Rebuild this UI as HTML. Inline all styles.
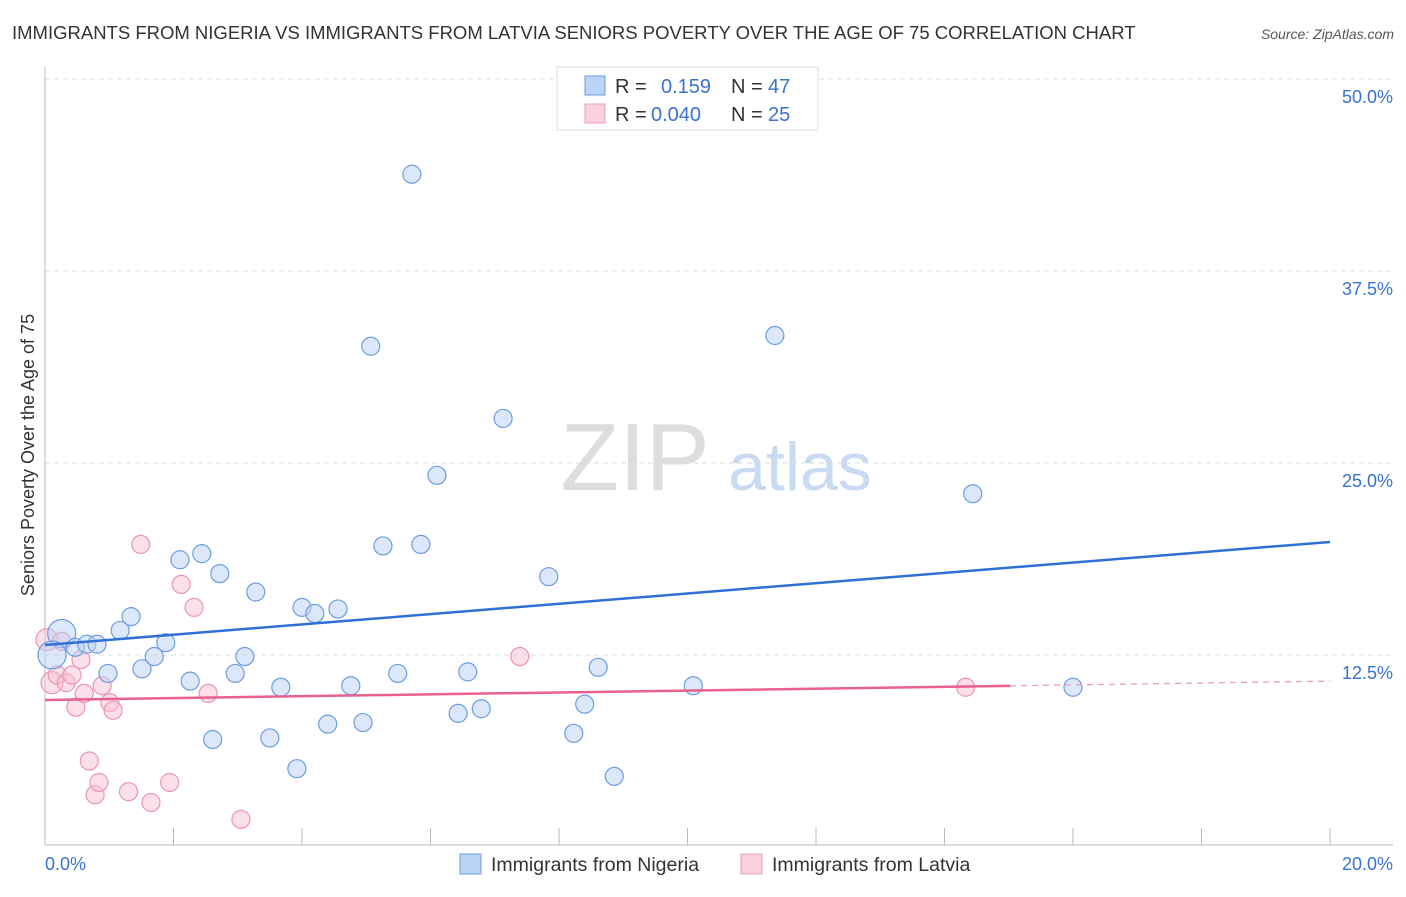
<!DOCTYPE html>
<html><head><meta charset="utf-8"><style>
body{margin:0;background:#fff;font-family:"Liberation Sans",sans-serif;}
svg text{font-family:"Liberation Sans",sans-serif;}
</style></head><body>
<svg id="chart" width="1406" height="892">
<text x="12" y="39" font-size="18.5" fill="#333">IMMIGRANTS FROM NIGERIA VS IMMIGRANTS FROM LATVIA SENIORS POVERTY OVER THE AGE OF 75 CORRELATION CHART</text>
<text x="1394" y="39" font-size="14" fill="#555" font-style="italic" text-anchor="end">Source: ZipAtlas.com</text>
<text x="635" y="490" font-size="96" fill="#ddd" font-family="Liberation Serif" text-anchor="middle">ZIP</text>
<text x="800" y="490" font-size="68" fill="#c9daf3" text-anchor="middle">atlas</text>
<g id="grid"></g>
<g id="axes"></g>
<g id="marks"></g>
<text transform="translate(34,455) rotate(-90)" font-size="18" fill="#333" text-anchor="middle">Seniors Poverty Over the Age of 75</text>
<g>
<rect x="557" y="67" width="261" height="63" fill="#fff" stroke="#ddd"/>
<rect x="585" y="76" width="20" height="19" fill="#bcd4f5" stroke="#6a9be0"/>
<rect x="585" y="104" width="20" height="19" fill="#fbd0dd" stroke="#ee9bb5"/>
<text x="615" y="93" font-size="20" fill="#333">R = </text><text x="661" y="93" font-size="20" fill="#3a72d0">0.159</text>
<text x="731" y="93" font-size="20" fill="#333">N = </text><text x="768" y="93" font-size="20" fill="#3a72d0">47</text>
<text x="615" y="121" font-size="20" fill="#333">R = </text><text x="651" y="121" font-size="20" fill="#3a72d0">0.040</text>
<text x="731" y="121" font-size="20" fill="#333">N = </text><text x="768" y="121" font-size="20" fill="#3a72d0">25</text>
</g>
<g>
<rect x="460" y="854" width="21" height="20" fill="#bcd4f5" stroke="#6a9be0"/>
<text x="491" y="871" font-size="19.5" fill="#333">Immigrants from Nigeria</text>
<rect x="741" y="854" width="21" height="20" fill="#fbd0dd" stroke="#ee9bb5"/>
<text x="772" y="871" font-size="19.5" fill="#333">Immigrants from Latvia</text>
</g>
</svg>
<script>
const yTicks=[12.5,25,37.5,50];
const yTickLabels=["12.5%","25.0%","37.5%","50.0%"];
const xTickLabels=["0.0%","20.0%"];
const nigeriaX=[0.26,0.11,0.47,0.65,0.81,0.98,1.17,1.34,1.51,1.70,1.88,2.10,2.26,2.44,2.61,2.72,2.96,3.11,3.28,3.50,3.67,3.92,4.00,4.20,4.40,4.56,4.76,4.95,5.07,5.26,5.49,5.71,5.85,6.10,6.43,6.58,6.79,7.13,7.84,8.23,8.40,8.61,8.86,10.09,11.36,14.44,16.00];
const nigeriaY=[13.9,12.5,13.0,13.2,13.2,11.3,14.1,15.0,11.6,12.4,13.3,18.7,10.8,19.1,7.0,17.8,11.3,12.4,16.6,7.1,10.4,5.1,15.6,15.2,8.0,15.5,10.5,8.1,32.6,19.6,11.3,43.8,19.7,24.2,8.7,11.4,9.0,27.9,17.6,7.4,9.3,11.7,4.6,10.5,33.3,23.0,10.4];
const latviaX=[0.03,0.11,0.26,0.19,0.33,0.42,0.56,0.48,0.61,0.69,0.78,0.84,0.89,1.01,1.06,1.30,1.49,1.65,1.94,2.12,2.32,2.54,3.05,7.39,14.33];
const latviaY=[13.5,10.7,13.4,11.2,10.7,11.2,12.2,9.1,10.0,5.6,3.4,4.2,10.5,9.4,8.9,3.6,19.7,2.9,4.2,17.1,15.6,10.0,1.8,12.4,10.4];
const nigeriaTrend=[13.15,19.86];
const latviaTrend=[9.57,10.8];
const NS="http://www.w3.org/2000/svg";
const X0=45,X1=1330,Y0=847,PPY=192/12.5;
const sx=v=>X0+(v/20)*(X1-X0);
const sy=v=>Y0-v*PPY;
function mk(tag,attrs,parent){const e=document.createElementNS(NS,tag);for(const k in attrs)e.setAttribute(k,attrs[k]);parent.appendChild(e);return e;}
const grid=document.getElementById('grid'),axes=document.getElementById('axes'),marks=document.getElementById('marks');
yTicks.forEach((t,i)=>{
 const l=mk('line',{x1:X0,x2:1393,y1:sy(t),y2:sy(t),stroke:'#ddd','stroke-dasharray':'5,4'},grid);
 
 
 const tx=mk('text',{x:1393,y:sy(t)+24,'font-size':18,fill:'#3a72d0','text-anchor':'end'},axes);
 tx.textContent=yTickLabels[i];
 
 
});
const ya=mk('line',{x1:X0,x2:X0,y1:67,y2:845,stroke:'#bbb'},axes);


const xa=mk('line',{x1:X0,x2:1393,y1:845,y2:845,stroke:'#bbb'},axes);


for(let i=0;i<=10;i++){
 const t=mk('line',{x1:sx(i*2),x2:sx(i*2),y1:828,y2:845,stroke:'#bbb'},axes);
 
 
}
[[0,'start',45],[20,'end',1393]].forEach((d,i)=>{
 const tx=mk('text',{x:d[2],y:870,'font-size':18,fill:'#3a72d0','text-anchor':d[1]},axes);
 tx.textContent=xTickLabels[i];
 
 
});
function pts(xs,ys,fill,stroke,name){
 xs.forEach((x,i)=>{
  const big=i<2&&x<0.3;
  const c=mk('circle',{cx:sx(x),cy:sy(ys[i]),r:big?(name==='latvia-point'?11:14):9,fill:fill,'fill-opacity':0.5,stroke:stroke,'stroke-width':1.2},marks);
  
  
 });
}
pts(latviaX,latviaY,'#f8c2d3','#ec95b1','latvia-point');
pts(nigeriaX,nigeriaY,'#b9d1f3','#6c9ce0','nigeria-point');
const bl=mk('line',{x1:sx(0),x2:sx(20),y1:sy(nigeriaTrend[0]),y2:sy(nigeriaTrend[1]),stroke:'#2f6fd6','stroke-width':2.5},marks);


const fr=(1010-X0)/(X1-X0);
const midY=latviaTrend[0]+(latviaTrend[1]-latviaTrend[0])*fr;
const pl=mk('line',{x1:sx(0),x2:1010,y1:sy(latviaTrend[0]),y2:sy(midY),stroke:'#e8608c','stroke-width':2.5},marks);


const pd=mk('line',{x1:1010,x2:sx(20),y1:sy(midY),y2:sy(latviaTrend[1]),stroke:'#e8a0b8','stroke-width':1.3,'stroke-dasharray':'6,5'},marks);


</script>
</body></html>
